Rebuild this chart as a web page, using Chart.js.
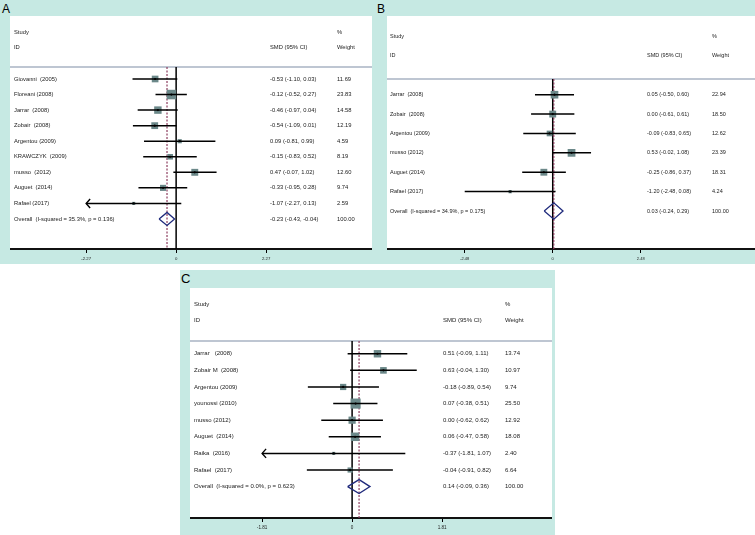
<!DOCTYPE html>
<html>
<head>
<meta charset="utf-8">
<script src="https://cdn.jsdelivr.net/npm/chart.js@4.4.0/dist/chart.umd.min.js"></script>
<style>
  body {
    margin: 0;
    background: #ffffff;
    width: 755px;
    height: 535px;
    position: relative;
    overflow: hidden;
    font-family: 'Liberation Sans', Arial, sans-serif;
  }
  .teal { position: absolute; background: #c6e9e3; }
  .tag { position: absolute; color: #000; line-height: 1; }
  canvas { position: absolute; }
</style>
</head>
<body>
<div class="teal" style="left:0;top:0;width:755px;height:264px"></div>
<div class="teal" style="left:180px;top:270px;width:375px;height:265px"></div>
<div class="tag" style="left:2px;top:3px;font-size:12px">A</div>
<div class="tag" style="left:377px;top:3px;font-size:12px">B</div>
<div class="tag" style="left:181px;top:272px;font-size:13px">C</div>
<canvas id="chartA" width="362" height="249" style="left:10px;top:16px"></canvas>
<canvas id="chartB" width="368" height="249" style="left:387px;top:16px"></canvas>
<canvas id="chartC" width="362" height="246" style="left:190px;top:288px"></canvas>
<script>
// headers shared by all three plots
const headerLabels = ['Study', 'ID', 'SMD (95% CI)', '%', 'Weight'];
const overallWeight = 100;

// A
const studiesA = ['Giovanni  (2005)', 'Floreani (2008)', 'Jarrar  (2008)', 'Zobair  (2008)', 'Argentou (2009)',
                  'KRAWCZYK  (2009)', 'musso  (2012)', 'Auguet  (2014)', 'Rafael (2017)'];
const smdA = [-0.53, -0.12, -0.46, -0.54, 0.09, -0.15, 0.47, -0.33, -1.07];
const lowA = [-1.10, -0.52, -0.97, -1.09, -0.81, -0.83, -0.07, -0.95, -2.27];
const highA = [0.03, 0.27, 0.04, 0.01, 0.99, 0.52, 1.02, 0.28, 0.13];
const weightA = [11.69, 23.83, 14.58, 12.19, 4.59, 8.19, 12.60, 9.74, 2.59];
const arrowA = [0, 0, 0, 0, 0, 0, 0, 0, 1];
const overallA = [-0.23, -0.43, -0.04];
const overallLabelA = 'Overall  (I-squared = 35.3%, p = 0.136)';
const ticksA = [-2.27, 0, 2.27];

// B
const studiesB = ['Jarrar  (2008)', 'Zobair  (2008)', 'Argentou (2009)', 'musso (2012)', 'Auguet (2014)', 'Rafael (2017)'];
const smdB = [0.05, 0.00, -0.09, 0.53, -0.25, -1.20];
const lowB = [-0.50, -0.61, -0.83, -0.02, -0.86, -2.48];
const highB = [0.60, 0.61, 0.65, 1.08, 0.37, 0.08];
const weightB = [22.94, 18.50, 12.62, 23.39, 18.31, 4.24];
const arrowB = [0, 0, 0, 0, 0, 0];
const overallB = [0.03, -0.24, 0.29];
const overallLabelB = 'Overall  (I-squared = 34.9%, p = 0.175)';
const ticksB = [-2.48, 0, 2.48];

// C
const studiesC = ['Jarrar   (2008)', 'Zobair M  (2008)', 'Argentou (2009)', 'younossi (2010)', 'musso (2012)',
                  'Auguet  (2014)', 'Raika  (2016)', 'Rafael  (2017)'];
const smdC = [0.51, 0.63, -0.18, 0.07, 0.00, 0.06, -0.37, -0.04];
const lowC = [-0.09, -0.04, -0.89, -0.38, -0.62, -0.47, -1.81, -0.91];
const highC = [1.11, 1.30, 0.54, 0.51, 0.62, 0.58, 1.07, 0.82];
const weightC = [13.74, 10.97, 9.74, 25.50, 12.92, 18.08, 2.40, 6.64];
const arrowC = [0, 0, 0, 0, 0, 0, 1, 0];
const overallC = [0.14, -0.09, 0.36];
const overallLabelC = 'Overall  (I-squared = 0.0%, p = 0.623)';
const ticksC = [-1.81, 0, 1.81];

const fmt = v => v.toFixed(2);
const FONT = '"Liberation Sans", Arial, sans-serif';

function forestPlugin(p) {
    return {
        id: 'forest',
        beforeDraw(chart) {
            const a = chart.chartArea;
            chart.ctx.save();
            chart.ctx.fillStyle = '#ffffff';
            chart.ctx.fillRect(a.left, a.top, a.right - a.left, a.bottom - a.top);
            chart.ctx.restore();
        },
        afterDatasetsDraw(chart) {
            const ctx = chart.ctx;
            const a = chart.chartArea;
            const xs = chart.scales.x;
            const ys = chart.scales.y;
            const c0 = a.left + p.cols[0], c1 = a.left + p.cols[1], c2 = a.left + p.cols[2];
            ctx.save();
            ctx.fillStyle = '#222';
            ctx.font = p.font + 'px ' + FONT;
            ctx.textBaseline = 'middle';
            ctx.textAlign = 'left';
            ctx.fillText(headerLabels[0], c0, ys.getPixelForValue(-2));
            ctx.fillText(headerLabels[1], c0, ys.getPixelForValue(-1));
            ctx.fillText(headerLabels[2], c1, ys.getPixelForValue(-1));
            ctx.fillText(headerLabels[3], c2, ys.getPixelForValue(-2));
            ctx.fillText(headerLabels[4], c2, ys.getPixelForValue(-1));
            p.studies.forEach((s, i) => {
                const py = ys.getPixelForValue(i + 1);
                ctx.fillText(s, c0, py);
                ctx.fillText(fmt(p.smd[i]) + ' (' + fmt(p.low[i]) + ', ' + fmt(p.high[i]) + ')', c1, py);
                ctx.fillText(fmt(p.weight[i]), c2, py);
            });
            const oy = ys.getPixelForValue(p.studies.length + 1);
            ctx.fillText(p.overallLabel, c0, oy);
            ctx.fillText(fmt(p.overall[0]) + ' (' + fmt(p.overall[1]) + ', ' + fmt(p.overall[2]) + ')', c1, oy);
            ctx.fillText(fmt(overallWeight), c2, oy);

            // arrows where the CI runs off the axis
            ctx.strokeStyle = '#000';
            ctx.lineWidth = 1.4;
            p.arrow.forEach((flag, i) => {
                if (!flag) return;
                const px = xs.getPixelForValue(p.low[i]);
                const py = ys.getPixelForValue(i + 1);
                ctx.beginPath();
                ctx.moveTo(px + 4, py - 4.5);
                ctx.lineTo(px, py);
                ctx.lineTo(px + 4, py + 4.5);
                ctx.stroke();
            });
            ctx.restore();
        }
    };
}

function drawForest(id, p) {
    const n = p.studies.length;
    const pts = p.smd.map((v, i) => ({ x: v, y: i + 1 }));
    const ci = [];
    p.smd.forEach((v, i) => {
        ci.push({ x: p.low[i], y: i + 1 }, { x: p.high[i], y: i + 1 }, { x: null, y: null });
    });
    const R = n + 1, h = 0.42;
    const [est, lo, hi] = p.overall;
    const line = (data, color, width, dash) => ({
        data: data, showLine: true, borderColor: color, borderWidth: width,
        borderDash: dash || [], pointRadius: 0, spanGaps: false, fill: false
    });

    new Chart(document.getElementById(id), {
        type: 'scatter',
        data: {
            datasets: [
                { data: pts, pointStyle: 'circle', pointRadius: 1.1, pointBackgroundColor: '#000', pointBorderWidth: 0 },
                line(ci, '#000', 1.5),
                {
                    data: pts, pointStyle: 'rect', pointBackgroundColor: '#6b8889', pointBorderWidth: 0,
                    pointRadius: ctx => p.boxK * Math.sqrt(p.weight[ctx.dataIndex]) / Math.SQRT2
                },
                line([{ x: lo, y: R }, { x: est, y: R - h }, { x: hi, y: R }, { x: est, y: R + h }, { x: lo, y: R }], '#1f2a7c', 1.3),
                line([{ x: est, y: p.sep }, { x: est, y: p.yBottom }], '#8c3c5e', 1.2, [2, 1.5]),
                line([{ x: 0, y: p.sep }, { x: 0, y: p.yBottom }], '#000', 1.5),
                line([{ x: p.xMin, y: p.sep }, { x: p.xMax, y: p.sep }], '#a8b3c3', 1.5)
            ]
        },
        options: {
            responsive: false,
            animation: false,
            devicePixelRatio: 1,
            layout: { padding: 0, autoPadding: false },
            plugins: { legend: { display: false }, tooltip: { enabled: false } },
            scales: {
                x: {
                    type: 'linear',
                    position: 'bottom',
                    min: p.xMin,
                    max: p.xMax,
                    afterBuildTicks: scale => { scale.ticks = p.ticks.map(v => ({ value: v })); },
                    afterFit: scale => { scale.height = 16; },
                    ticks: {
                        autoSkip: false,
                        maxRotation: 0,
                        padding: 3,
                        color: '#222',
                        font: { family: FONT, size: p.tickFont },
                        callback: v => (v === 0 ? '0' : fmt(v))
                    },
                    grid: { drawOnChartArea: false, drawTicks: true, tickLength: 4, tickColor: '#000', tickWidth: 1 },
                    border: { display: true, color: '#111', width: 2 }
                },
                y: {
                    type: 'linear',
                    display: false,
                    reverse: true,
                    min: p.yTop,
                    max: p.yBottom
                }
            }
        },
        plugins: [forestPlugin(p)]
    });
}

drawForest('chartA', {
    studies: studiesA, smd: smdA, low: lowA, high: highA, weight: weightA, arrow: arrowA,
    overall: overallA, overallLabel: overallLabelA, ticks: ticksA,
    xMin: -4.19, xMax: 4.94, yTop: -3.05, yBottom: 11.93, sep: 0.23,
    boxK: 1.95, font: 5.8, tickFont: 4.3, cols: [4, 260, 327]
});
drawForest('chartB', {
    studies: studiesB, smd: smdB, low: lowB, high: highB, weight: weightB, arrow: arrowB,
    overall: overallB, overallLabel: overallLabelB, ticks: ticksB,
    xMin: -4.67, xMax: 5.70, yTop: -3.06, yBottom: 8.96, sep: 0.19,
    boxK: 1.6, font: 5.5, tickFont: 4.0, cols: [3, 260, 325]
});
drawForest('chartC', {
    studies: studiesC, smd: smdC, low: lowC, high: highC, weight: weightC, arrow: arrowC,
    overall: overallC, overallLabel: overallLabelC, ticks: ticksC,
    xMin: -3.26, xMax: 4.02, yTop: -2.96, yBottom: 10.89, sep: 0.23,
    boxK: 2.0, font: 6.0, tickFont: 4.6, cols: [4, 253, 315]
});
</script>
</body>
</html>
